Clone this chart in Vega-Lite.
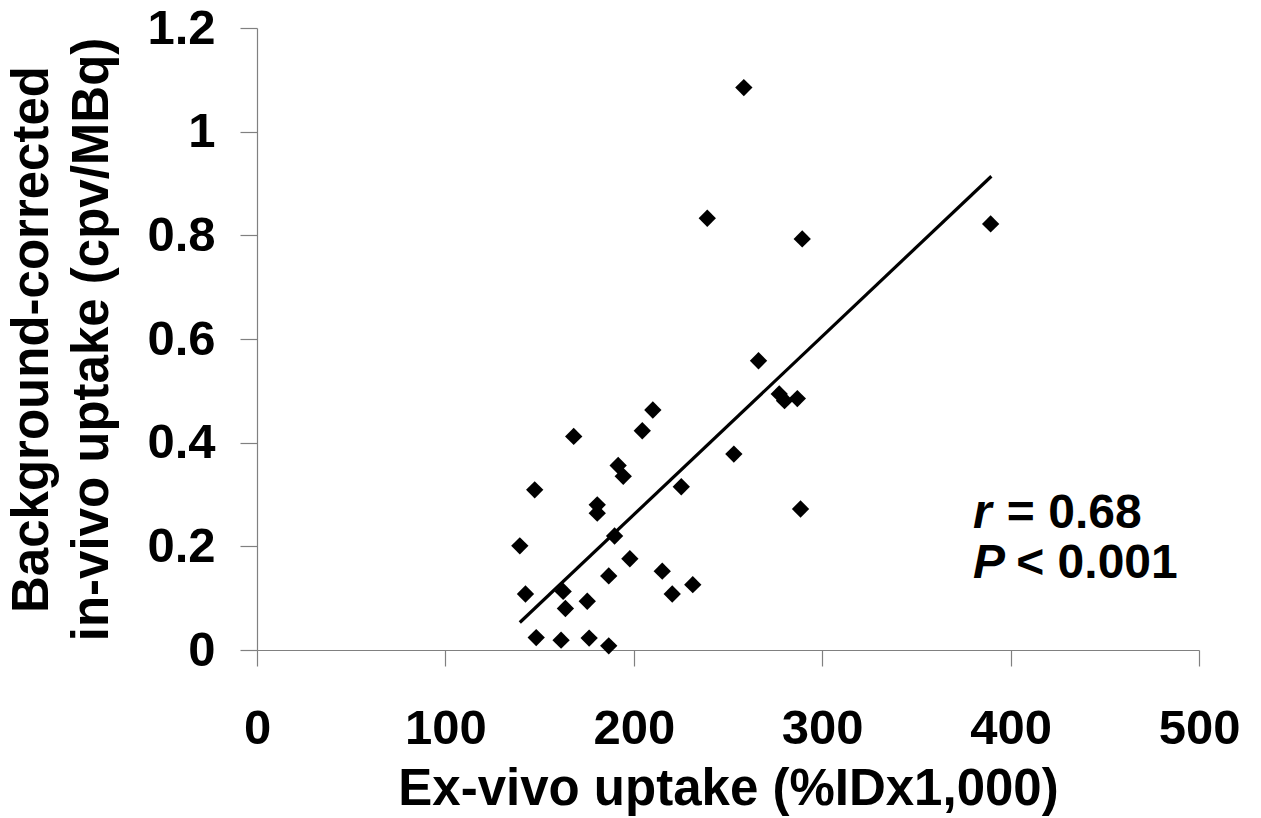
{
  "$schema": "https://vega.github.io/schema/vega-lite/v6.json",
  "width": 942,
  "height": 622,
  "autosize": {"type": "none"},
  "padding": {"left": 257, "top": 28, "right": 62, "bottom": 168},
  "background": "white",
  "config": {
    "view": {"stroke": null},
    "font": "Liberation Sans",
    "axis": {
      "grid": false,
      "domainColor": "#808080",
      "domainWidth": 1.2,
      "tickColor": "#808080",
      "tickWidth": 1.2,
      "labelColor": "#000000",
      "titleColor": "#000000",
      "labelFont": "Liberation Sans",
      "titleFont": "Liberation Sans",
      "labelFontWeight": "bold",
      "titleFontWeight": "bold",
      "labelFontSize": 49,
      "titleFontSize": 51,
      "labelFlush": false,
      "labelOverlap": false
    }
  },
  "datasets": {
    "points": [
      {"exvivo": 210.1, "invivo": 0.463},
      {"exvivo": 204.5, "invivo": 0.423},
      {"exvivo": 168.1, "invivo": 0.412},
      {"exvivo": 191.7, "invivo": 0.356},
      {"exvivo": 194.4, "invivo": 0.335},
      {"exvivo": 147.4, "invivo": 0.309},
      {"exvivo": 180.6, "invivo": 0.280},
      {"exvivo": 180.6, "invivo": 0.264},
      {"exvivo": 189.8, "invivo": 0.220},
      {"exvivo": 139.5, "invivo": 0.201},
      {"exvivo": 197.9, "invivo": 0.176},
      {"exvivo": 215.1, "invivo": 0.152},
      {"exvivo": 186.7, "invivo": 0.143},
      {"exvivo": 231.3, "invivo": 0.126},
      {"exvivo": 220.4, "invivo": 0.108},
      {"exvivo": 142.5, "invivo": 0.108},
      {"exvivo": 162.5, "invivo": 0.113},
      {"exvivo": 163.7, "invivo": 0.080},
      {"exvivo": 175.3, "invivo": 0.094},
      {"exvivo": 148.2, "invivo": 0.024},
      {"exvivo": 161.4, "invivo": 0.019},
      {"exvivo": 176.3, "invivo": 0.023},
      {"exvivo": 186.7, "invivo": 0.008},
      {"exvivo": 225.2, "invivo": 0.315},
      {"exvivo": 253.1, "invivo": 0.378},
      {"exvivo": 277.2, "invivo": 0.494},
      {"exvivo": 280.0, "invivo": 0.481},
      {"exvivo": 286.8, "invivo": 0.485},
      {"exvivo": 288.5, "invivo": 0.272},
      {"exvivo": 258.4, "invivo": 1.085},
      {"exvivo": 239.0, "invivo": 0.833},
      {"exvivo": 289.4, "invivo": 0.793},
      {"exvivo": 389.4, "invivo": 0.822},
      {"exvivo": 266.2, "invivo": 0.558}
    ],
    "fit": [
      {"exvivo": 139.5, "invivo": 0.053},
      {"exvivo": 389.8, "invivo": 0.914}
    ],
    "italic": [
      {"t": "r", "x": 380, "y": 0.236},
      {"t": "P", "x": 380, "y": 0.1396}
    ],
    "plain": [
      {"t": "= 0.68", "x": 398, "y": 0.236},
      {"t": "< 0.001", "x": 403, "y": 0.1396}
    ]
  },
  "layer": [
    {
      "data": {"name": "points"},
      "mark": {"type": "point", "shape": "diamond", "filled": true, "size": 300, "color": "#000000", "opacity": 1, "strokeWidth": 0},
      "encoding": {
        "x": {
          "field": "exvivo", "type": "quantitative",
          "scale": {"domain": [0, 500], "nice": false, "zero": true},
          "axis": {
            "title": "Ex-vivo uptake (%IDx1,000)",
            "values": [0, 100, 200, 300, 400, 500],
            "format": "d",
            "tickSize": 16,
            "labelBaseline": "alphabetic",
            "labelPadding": 77,
            "titleX": 471,
            "titleY": 154,
            "titleBaseline": "alphabetic",
            "titleAlign": "center",
            "titleAnchor": null
          }
        },
        "y": {
          "field": "invivo", "type": "quantitative",
          "scale": {"domain": [0, 1.2], "nice": false},
          "axis": {
            "title": ["Background-corrected", "in-vivo uptake (cpv/MBq)"],
            "values": [0, 0.2, 0.4, 0.6, 0.8, 1, 1.2],
            "format": "~g",
            "tickSize": 17,
            "labelPadding": 25,
            "titleAngle": -90,
            "titleX": -210,
            "titleY": 311,
            "titleBaseline": "alphabetic",
            "titleAlign": "center",
            "titleAnchor": null,
            "titleLineHeight": 60
          }
        }
      }
    },
    {
      "data": {"name": "fit"},
      "mark": {"type": "line", "color": "#000000", "strokeWidth": 3.2},
      "encoding": {
        "x": {"field": "exvivo", "type": "quantitative"},
        "y": {"field": "invivo", "type": "quantitative"}
      }
    },
    {
      "data": {"name": "italic"},
      "mark": {"type": "text", "font": "Liberation Sans", "fontSize": 48, "fontWeight": "bold", "fontStyle": "italic", "align": "left", "baseline": "alphabetic", "color": "#000000"},
      "encoding": {
        "x": {"field": "x", "type": "quantitative"},
        "y": {"field": "y", "type": "quantitative"},
        "text": {"field": "t"}
      }
    },
    {
      "data": {"name": "plain"},
      "mark": {"type": "text", "font": "Liberation Sans", "fontSize": 48, "fontWeight": "bold", "align": "left", "baseline": "alphabetic", "color": "#000000"},
      "encoding": {
        "x": {"field": "x", "type": "quantitative"},
        "y": {"field": "y", "type": "quantitative"},
        "text": {"field": "t"}
      }
    }
  ]
}
